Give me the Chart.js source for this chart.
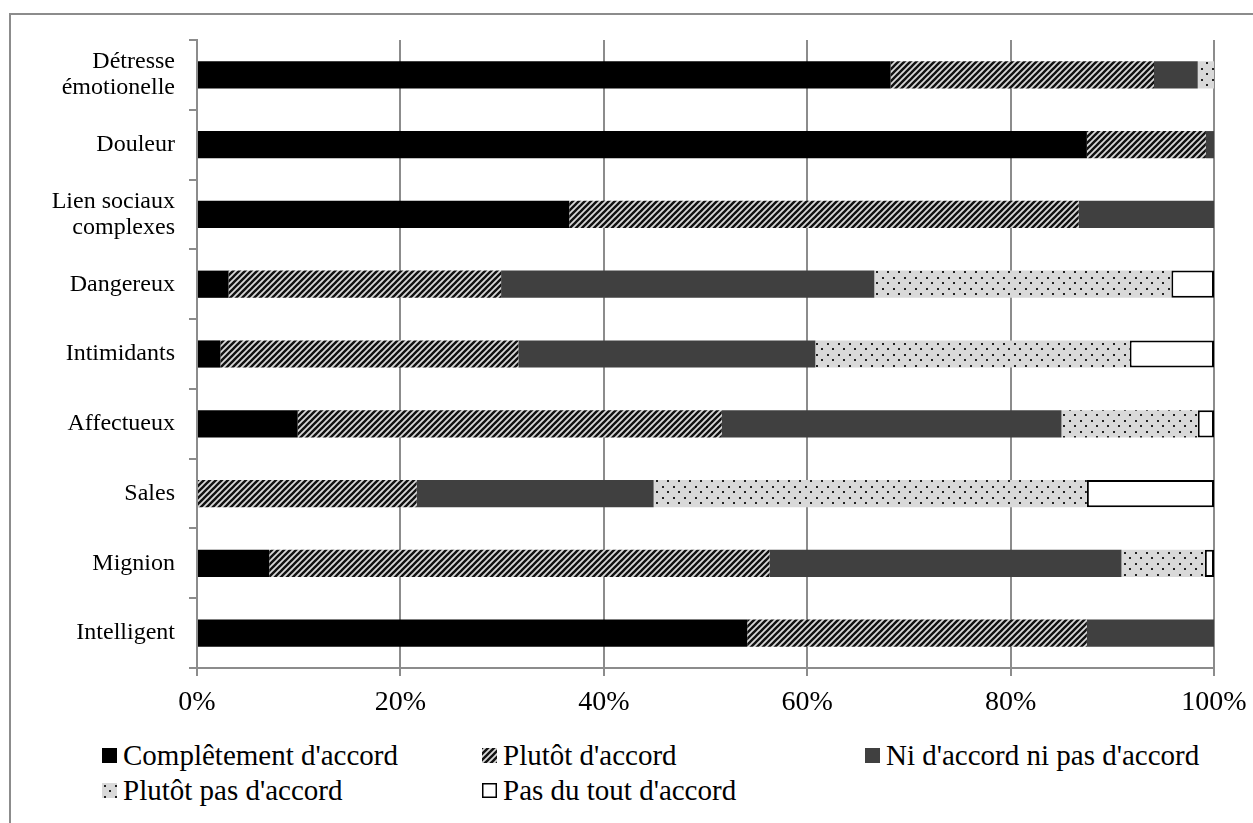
<!DOCTYPE html>
<html>
<head>
<meta charset="utf-8">
<script src="https://cdn.jsdelivr.net/npm/chart.js@4.4.1/dist/chart.umd.min.js"></script>
<style>
    body{
        margin: 0;
        width: 1253px;
        height: 823px;
        overflow: hidden;
        position: relative;
        background: #fff;
        font-family: "Liberation Serif", "Times New Roman", serif;
    }
    #frame{
        position: absolute;
        left: 9px;
        top: 13px;
        width: 1400px;
        height: 1000px;
        border: 2px solid #8c8c8c;
    }
    #wrap{
        position: absolute;
        left: 0;
        top: 0;
        width: 1253px;
        height: 720px;
    }
    .item{
        position: absolute;
        font-size: 29px;
        line-height: 32px;
        color: #000;
        white-space: nowrap;
        display: flex;
        align-items: center;
    }
    .item canvas{
        margin-right: 6px;
    }
</style>
</head>
<body>
<div id="frame"></div>
<div id="wrap"><canvas id="barChart" width="1253" height="720"></canvas></div>
<div id="legend"></div>
<script>
const categories = [
    ["Détresse", "émotionelle"],
    "Douleur",
    ["Lien sociaux", "complexes"],
    "Dangereux",
    "Intimidants",
    "Affectueux",
    "Sales",
    "Mignion",
    "Intelligent"
];
const seriesLabels = [
    "Complêtement d'accord",
    "Plutôt d'accord",
    "Ni d'accord ni pas d'accord",
    "Plutôt pas d'accord",
    "Pas du tout d'accord"
];
const completement = [68.2, 87.5, 36.6, 3.1, 2.3, 9.9, 0, 7.1, 54.1];
const plutot       = [25.9, 11.7, 50.1, 26.8, 29.3, 41.7, 21.6, 49.2, 33.4];
const ni           = [4.3, 0.8, 13.3, 36.7, 29.2, 33.4, 23.3, 34.6, 12.5];
const plutotPas    = [1.6, 0, 0, 29.2, 30.9, 13.4, 42.6, 8.2, 0];
const pasDuTout    = [0, 0, 0, 4.2, 8.3, 1.6, 12.5, 0.9, 0];
const xTicks = [0, 20, 40, 60, 80, 100];

// PATTERNS
function hatchPattern(){
    const c = document.createElement("canvas");
    c.width = 6;
    c.height = 6;
    const g = c.getContext("2d");
    g.fillStyle = "#d8d8d8";
    g.fillRect(0, 0, 6, 6);
    g.strokeStyle = "#111";
    g.lineWidth = 2.4;
    [[-3, 3, 3, -3], [0, 6, 6, 0], [3, 9, 9, 3]].forEach(l => {
        g.beginPath();
        g.moveTo(l[0], l[1]);
        g.lineTo(l[2], l[3]);
        g.stroke();
    });
    return g.createPattern(c, "repeat");
}
function dotPattern(){
    const c = document.createElement("canvas");
    c.width = 11;
    c.height = 11;
    const g = c.getContext("2d");
    g.fillStyle = "#d9d9d9";
    g.fillRect(0, 0, 11, 11);
    g.fillStyle = "#222";
    g.fillRect(2, 2, 2, 2);
    g.fillRect(7, 7, 2, 2);
    return g.createPattern(c, "repeat");
}
const fills = ["#000000", hatchPattern(), "#404040", dotPattern(), "#ffffff"];
const borders = [0, 0, 0, 0, 2];
const values = [completement, plutot, ni, plutotPas, pasDuTout];

const datasets = seriesLabels.map((label, i) => ({
    label: label,
    data: values[i],
    backgroundColor: fills[i],
    borderColor: "#000",
    borderWidth: borders[i],
    borderSkipped: false,
    barPercentage: 0.39,
    categoryPercentage: 1
}));

const serif = "'Liberation Serif', 'Times New Roman', serif";
const grey = "#8c8c8c";

const barChart = new Chart(document.getElementById("barChart"), {
    type: "bar",
    data: {
        labels: categories,
        datasets: datasets
    },
    options: {
        indexAxis: "y",
        responsive: false,
        animation: false,
        devicePixelRatio: 1,
        layout: {
            padding: {top: 40, right: 39, left: 0, bottom: 0}
        },
        plugins: {
            legend: {display: false},
            tooltip: {enabled: false}
        },
        scales: {
            x: {
                stacked: true,
                min: 0,
                max: 100,
                afterFit: s => {
                    s.height = 52;
                    s.paddingLeft = 0;
                    s.paddingRight = 0;
                },
                afterBuildTicks: s => { s.ticks = xTicks.map(v => ({value: v})); },
                ticks: {
                    callback: v => v + "%",
                    color: "#000",
                    padding: 10,
                    maxRotation: 0,
                    font: {family: serif, size: 28}
                },
                grid: {
                    color: grey,
                    lineWidth: 2,
                    tickLength: 8,
                    tickColor: grey
                },
                border: {color: grey, width: 2}
            },
            y: {
                stacked: true,
                afterFit: s => { s.width = 197; },
                ticks: {
                    color: "#000",
                    padding: 14,
                    font: {family: serif, size: 24, lineHeight: 1.1}
                },
                grid: {
                    offset: true,
                    drawOnChartArea: false,
                    tickLength: 8,
                    tickColor: grey,
                    lineWidth: 2
                },
                border: {color: grey, width: 2}
            }
        }
    }
});

// LEGEND
const legendPos = [[102, 739], [482, 739], [865, 739], [102, 774], [482, 774]];
const legendDiv = document.getElementById("legend");
seriesLabels.forEach((label, i) => {
    const item = document.createElement("div");
    item.className = "item";
    item.style.left = legendPos[i][0] + "px";
    item.style.top = legendPos[i][1] + "px";
    const sw = document.createElement("canvas");
    sw.width = 15;
    sw.height = 15;
    const g = sw.getContext("2d");
    g.fillStyle = fills[i];
    g.fillRect(0, 0, 15, 15);
    if(borders[i]){
        g.strokeStyle = "#000";
        g.lineWidth = 1.5;
        g.strokeRect(0.75, 0.75, 13.5, 13.5);
    }
    item.appendChild(sw);
    const span = document.createElement("span");
    span.textContent = label;
    item.appendChild(span);
    legendDiv.appendChild(item);
});
</script>
</body>
</html>
